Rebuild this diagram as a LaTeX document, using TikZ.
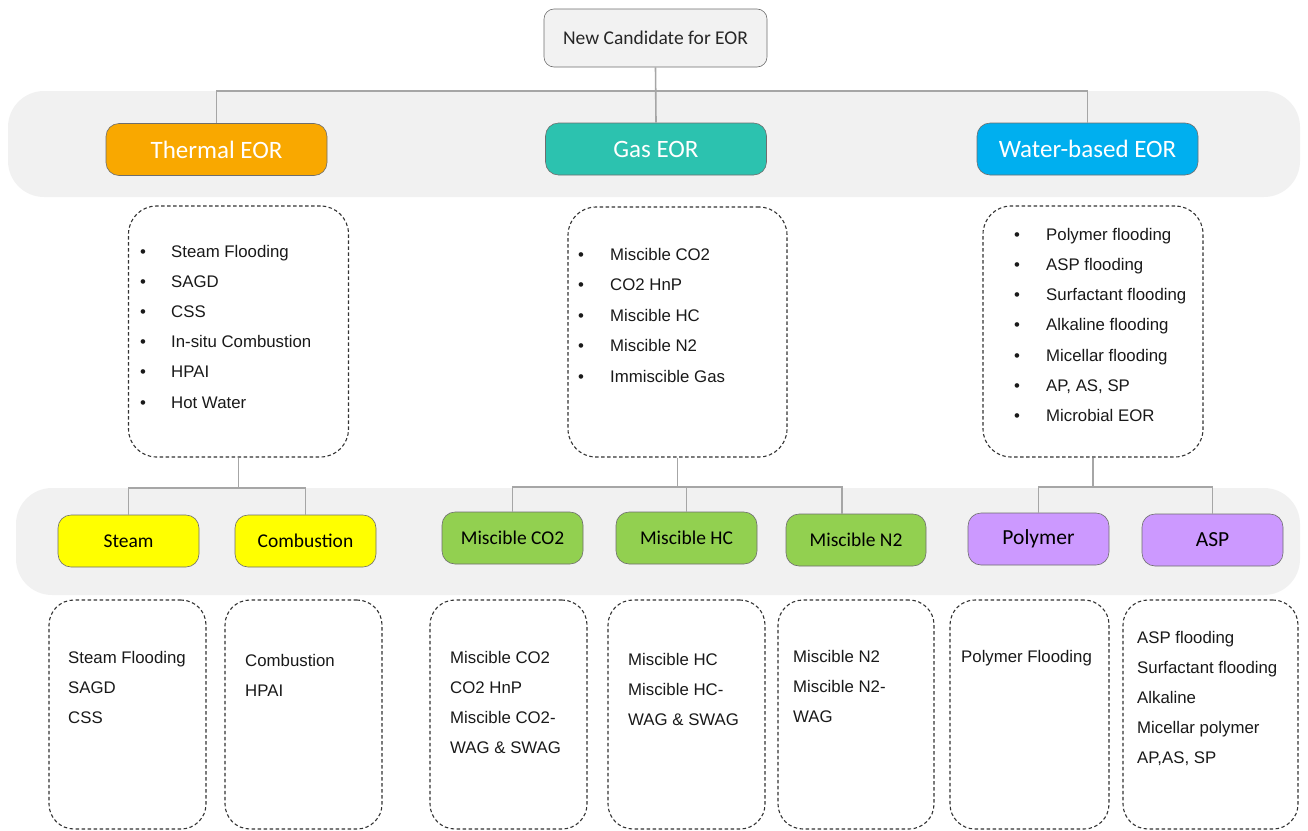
\documentclass[tikz,border=0pt]{standalone}
\usepackage{fontspec}
\setmainfont{Liberation Sans}
\newfontfamily\calib{Carlito}
\definecolor{bandgray}{RGB}{241,241,241}
\definecolor{topfill}{RGB}{242,242,242}
\definecolor{thermalc}{RGB}{249,168,0}
\definecolor{gasc}{RGB}{44,194,175}
\definecolor{waterc}{RGB}{0,175,239}
\definecolor{yellowc}{RGB}{255,255,0}
\definecolor{greenc}{RGB}{146,208,80}
\definecolor{purplec}{RGB}{204,153,255}
\definecolor{connc}{RGB}{166,166,166}
\definecolor{edgec}{RGB}{110,110,110}
\begin{document}
\begin{tikzpicture}[x=1pt,y=-1pt,
  band/.style={fill=bandgray,draw=none,rounded corners=36pt},
  topbox/.style={draw=edgec,line width=0.6pt,fill=topfill,rounded corners=10pt,
    minimum width=223pt,minimum height=58pt,inner sep=0pt,
    font=\calib\fontsize{19.5}{23}\selectfont,text=black!85},
  head/.style={draw=edgec,line width=0.6pt,rounded corners=13pt,
    minimum width=221pt,minimum height=52pt,inner sep=0pt,
    font=\calib\fontsize{25}{30}\selectfont,text=white},
  sub/.style={draw=edgec,line width=0.6pt,rounded corners=13pt,
    minimum width=141pt,minimum height=52pt,inner sep=0pt,
    font=\calib\fontsize{19.5}{23}\selectfont,text=black},
  listbox/.style={draw=black!80,line width=1.1pt,dash pattern=on 3.5pt off 2.5pt,
    rounded corners=28pt,inner sep=0pt},
  conn/.style={draw=connc,line width=1.6pt},
  item/.style={anchor=base west,inner sep=0pt,font=\fontsize{16.8}{20}\selectfont,text=black!90},
  bul/.style={anchor=base,inner sep=0pt,font=\fontsize{16.8}{20}\selectfont,text=black!90}]

\useasboundingbox (0,0) rectangle (1308,830);

% grey bands behind the two rows of categories
\fill[band] (8,91) rectangle (1300,197);
\fill[band] (16,488) rectangle (1300,595);

% root
\node[topbox] (top) at (655.5,38) {New Candidate for EOR};

% main categories
\node[head,fill=thermalc] (thermal) at (216.5,149.5) {Thermal EOR};
\node[head,fill=gasc] (gas) at (656,149) {Gas EOR};
\node[head,fill=waterc] (water) at (1087.5,149) {Water-based EOR};

\coordinate (h1) at (656,91);
\draw[conn] (top.south) -- (gas.north);
\draw[conn] (thermal.north) |- (h1) -| (water.north);

% method lists for each category
\node[listbox,minimum width=220pt,minimum height=251pt] (thlist) at (238.5,331.5) {};
\node[listbox,minimum width=219pt,minimum height=250pt] (galist) at (677.5,332) {};
\node[listbox,minimum width=220pt,minimum height=251pt] (walist) at (1093,331.5) {};

\foreach \t [count=\i] in {Steam Flooding,SAGD,CSS,In-situ Combustion,HPAI,Hot Water} {
  \node[bul] (thb\i) at (143,{257+30.2*(\i-1)}) {\textbullet};
  \node[item] (tht\i) at (171,{257+30.2*(\i-1)}) {\t};
}
\foreach \t [count=\i] in {Miscible CO2,CO2 HnP,Miscible HC,Miscible N2,Immiscible Gas} {
  \node[bul] (gab\i) at (581,{260+30.5*(\i-1)}) {\textbullet};
  \node[item] (gat\i) at (610,{260+30.5*(\i-1)}) {\t};
}
\foreach \t [count=\i] in {Polymer flooding,ASP flooding,Surfactant flooding,Alkaline flooding,Micellar flooding,{AP, AS, SP},Microbial EOR} {
  \node[bul] (wab\i) at (1017,{240+30.33*(\i-1)}) {\textbullet};
  \node[item] (wat\i) at (1046,{240+30.33*(\i-1)}) {\t};
}

% sub-categories
\node[sub,fill=yellowc] (steam) at (128.5,541) {Steam};
\node[sub,fill=yellowc] (comb) at (305.5,541) {Combustion};
\node[sub,fill=greenc] (mco2) at (512.5,538) {Miscible CO2};
\node[sub,fill=greenc] (mhc) at (686.5,538) {Miscible HC};
\node[sub,fill=greenc,minimum width=140pt] (mn2) at (856,540) {Miscible N2};
\node[sub,fill=purplec,font=\calib\fontsize{21.5}{25}\selectfont] (poly) at (1038.5,539) {Polymer};
\node[sub,fill=purplec,font=\calib\fontsize{21.5}{25}\selectfont] (asp) at (1212.5,540) {ASP};

\coordinate (h2) at (238.5,488);
\coordinate (h3) at (677.5,487);
\coordinate (h4) at (1093,487);
\draw[conn] (thlist.south) -- (h2);
\draw[conn] (steam.north) |- (h2) -| (comb.north);
\draw[conn] (galist.south) -- (h3);
\draw[conn] (mco2.north) |- (h3) -| ([xshift=-14pt]mn2.north);
\draw[conn] (mhc.north) -- (mhc.north |- h3);
\draw[conn] (walist.south) -- (h4);
\draw[conn] (poly.north) |- (h4) -| (asp.north);

% detail boxes
\node[listbox,rounded corners=25pt,minimum width=157pt,minimum height=229pt] (d1) at (127.5,714.5) {};
\node[listbox,rounded corners=25pt,minimum width=157pt,minimum height=229pt] (d2) at (303.5,714.5) {};
\node[listbox,rounded corners=25pt,minimum width=157pt,minimum height=229pt] (d3) at (508.5,714.5) {};
\node[listbox,rounded corners=25pt,minimum width=157pt,minimum height=229pt] (d4) at (686.5,714.5) {};
\node[listbox,rounded corners=25pt,minimum width=156pt,minimum height=229pt] (d5) at (856,714.5) {};
\node[listbox,rounded corners=25pt,minimum width=159pt,minimum height=229pt] (d6) at (1029.5,714.5) {};
\node[listbox,rounded corners=25pt,minimum width=175pt,minimum height=229pt] (d7) at (1210.5,714.5) {};

\foreach \t [count=\i] in {Steam Flooding,SAGD,CSS}
  \node[item] (d1t\i) at (68,{663+30*(\i-1)}) {\t};
\foreach \t [count=\i] in {Combustion,HPAI}
  \node[item] (d2t\i) at (245,{666+30*(\i-1)}) {\t};
\foreach \t [count=\i] in {Miscible CO2,CO2 HnP,Miscible CO2-,WAG \& SWAG}
  \node[item] (d3t\i) at (450,{663+30.3*(\i-1)}) {\t};
\foreach \t [count=\i] in {Miscible HC,Miscible HC-,WAG \& SWAG}
  \node[item] (d4t\i) at (628,{665+30*(\i-1)}) {\t};
\foreach \t [count=\i] in {Miscible N2,Miscible N2-,WAG}
  \node[item] (d5t\i) at (793,{662+30*(\i-1)}) {\t};
\node[item] (d6t1) at (961,662) {Polymer Flooding};
\foreach \t [count=\i] in {ASP flooding,Surfactant flooding,Alkaline,Micellar polymer,{AP,AS, SP}}
  \node[item] (d7t\i) at (1137,{643+30*(\i-1)}) {\t};

\end{tikzpicture}
\end{document}
